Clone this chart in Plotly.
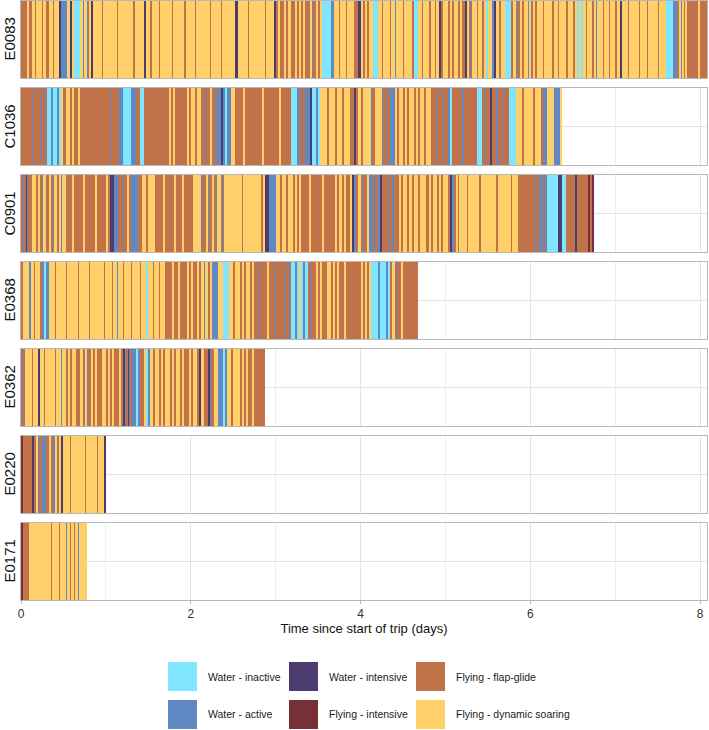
import plotly.graph_objects as go
from plotly.subplots import make_subplots

# ---------------- data ----------------
# Each upper-case character is one 0.025-day behaviour bin,
# each lower-case character is a half bin (0.0125 day) of that behaviour.
BIN_DAYS = 0.025

birds = ["E0083", "C1036", "C0901", "E0368", "E0362", "E0220", "E0171"]

state_codes = ["I", "A", "W", "R", "F", "S"]
state_labels = ["Water - inactive", "Water - active", "Water - intensive",
                "Flying - intensive", "Flying - flap-glide", "Flying - dynamic soaring"]
state_colors = ["#80E5FF", "#6089C4", "#4C3C70", "#783038", "#C17248", "#FFD069"]

# I=water inactive, A=water active, W=water intensive,
# R=flying intensive, F=flap-glide, S=dynamic soaring
E0083 = ["FFF", "SFSsfSSSfsSFSSfsSS", "WAAasSWSIIISasSAfsW", "SSSSfsSSSSSSfsSSSSSSSfsSSSS",
         "W", "SSfsSSSfsSSSSSfsSSSSSfsSSSSfsSSSSSSfsSSSSfsSSSSS", "SW",
         "SSSSSfsSSSSSSSfsSSS", "W", "FSFFSFSFFSFSFSFFSafFSFS", "IIIIAas", "SSfsSSfsSSSF",
         "FWas", "FSFSS", "II", "SSfsSSSfsSasSSSfsasSSF", "II", "SSfsSSFSSfsS", "W",
         "FSSFSFSSFSF", "W", "SFasSSfsSFS", "IS", "SAW", "SFS", "SIII", "FSafFSFSSasFSFS",
         "SSfsSSSFSSfsSS", "SfsSSFS", "I", "S", "I", "SfsSSFSasSSfsSSfsSSFS", "W",
         "SSSfsSSSSfsSSSfsSSSSfsSSS", "IIIAA", "FSasFSF", "FFFFSFF", "FS"]
C1036 = ["FFFFFafFFFafFaf", "IIAIIAI", "SFSSFSFFSF", "FFFFFFFFFFFFFaf",
         "afFFAAIIIIAAFafII", "FFFFFFFFFFFFsfFsfFFFFF", "SFSSFSS", "FafFFSFaf", "AAWAIAA",
         "SS", "FFFFsfFFFFFFFFsfFFFFFFFsfFFFF", "IIIA", "FafF", "AAWI", "IAIS",
         "SSFSSSFSSFSSS", "FFWFSF", "SSSS", "afF", "SSS", "afFaf", "FAA",
         "SFSSFSFSSFSFSSFSSF", "FFafFFafF", "AI", "FFFFFafFFFFFF", "II",
         "FafFFWFFafFFafFF", "IIIS", "SSFSSSSFSSS", "FAAS", "SS", "AAAS"]
C0901 = ["FafWafFS", "SFSFasSFSFasSFSasSF", "FFSFFFFSFFFFFSFFFFSF", "WWA", "afF", "FafFSF",
         "AAA", "Faf", "SSFSSSF", "FFFSFFFFSFFFSFFFF", "SSSS", "afFSafFSFasSFasS",
         "SSSSSSSfsSSSSSSSSF", "SWWAAAS", "SFSSFSSFSFS", "FFFFsfFFFFFsfFFFFF", "SFSFSFFS",
         "WA", "FSFafFS", "AAFaf", "AWF", "FFafFafFF", "SFSSFSFSSFSSSFSFSSFSFSSF", "WAF",
         "SfsSSSfsSSSSSfsSSSSSSSfsSSSSSSfsSS", "FFFFFFFF", "afFAAFA", "IIIII", "WW", "IIF",
         "FFFWFFFFFRFR"]
E0368 = ["FSSSas", "SfsSSF", "AIA", "SSSfsSSSSfsSSSSSfsSSSSfsSSSSSSfsSSSfsS", "as",
         "SSfsSSSfsSSSfsSS", "I", "SSfsSSfsSSF", "FFSFFSFFFSFSFF", "SFSasSFS", "AAAS", "S",
         "IIIS", "SFSSFSFSSFS", "FFafFFFSFFafFFFF", "afFaf", "IIAI", "SIAI", "FafFF",
         "SFSFFSSFSFSFFSF", "FFFFFF", "SFSFS", "IIIAIIIAI", "FSFafFSF", "FFFFFF"]
E0362 = ["Faf", "SSSfsSS", "W", "SSfsSSSSfsSS", "as", "SFSFSSFFSFSafFSFSFFSSFSFSFafSF",
         "WafWafA", "AIA", "FFS", "IA", "SFSSFSFSSFSFSSFSFFSFSSF", "W", "SF", "afWafF", "SS",
         "AAIA", "SSFSSSFSFS", "FFSFFFFF"]
E0220 = ["R", "FFFF", "W", "FSafF", "AA", "FSF", "AS", "FS", "W", "SSSfsSSSSSSfsSSSSSfsSS",
         "W"]
E0171 = ["RF", "FFS", "SSSSSSSSSfsSSSfsSSasSfsSfsSasSSfs"]

sequences = [E0083, C1036, C0901, E0368, E0362, E0220, E0171]

x_tick_vals = [0, 2, 4, 6, 8]
x_title = "Time since start of trip (days)"

# ---------------- figure ----------------
W, H = 709, 730
L, R, T, B = 21, 2, 1, 130
plot_w = W - L - R
plot_h = H - T - B
gap_px = 10

fig = make_subplots(rows=len(birds), cols=1, shared_xaxes=True,
                    vertical_spacing=gap_px / plot_h)


def segments(chunks):
    out = []
    t = 0.0
    for ch in "".join(chunks):
        d = BIN_DAYS if ch.isupper() else BIN_DAYS / 2
        st = ch.upper()
        if out and out[-1][0] == st:
            out[-1][2] += d
        else:
            out.append([st, t, d])
        t += d
    return out


for r, (bird, chunks) in enumerate(zip(birds, sequences), start=1):
    segs = segments(chunks)
    for code, lab, col in zip(state_codes, state_labels, state_colors):
        sel = [(s, d) for c, s, d in segs if c == code]
        if not sel:
            continue
        fig.add_trace(go.Bar(
            orientation="h",
            y=[0] * len(sel),
            base=[s for s, d in sel],
            x=[d for s, d in sel],
            width=1,
            marker=dict(color=col, line=dict(width=0)),
            name=lab, showlegend=False,
        ), row=r, col=1)

grid_c = "#E3E3E3"
border_c = "#B8B8B8"
for r in range(1, len(birds) + 1):
    fig.update_xaxes(range=[0, 8.08], tickvals=x_tick_vals, showgrid=True,
                     gridcolor=grid_c, gridwidth=1,
                     minor=dict(dtick=1, showgrid=True, gridcolor="#EEEEEE", gridwidth=0.6),
                     zeroline=False, showline=True, mirror=True, linecolor=border_c,
                     linewidth=1, row=r, col=1)
    fig.update_yaxes(range=[-0.5, 0.5], tickvals=[0], showticklabels=False,
                     showgrid=True, gridcolor=grid_c, gridwidth=1, zeroline=False,
                     showline=True, mirror=True, linecolor=border_c, linewidth=1,
                     fixedrange=True, row=r, col=1)

fig.update_xaxes(ticks="outside", ticklen=3, tickcolor=border_c,
                 tickfont=dict(size=12, color="#333333"),
                 title=dict(text=x_title, font=dict(size=13, color="#111111"), standoff=3),
                 row=len(birds), col=1)


def px_x(px):
    return (px - L) / plot_w


def px_y(py):
    return (T + plot_h - py) / plot_h


annotations = []
for r, bird in enumerate(birds, start=1):
    yax = fig.layout["yaxis" if r == 1 else f"yaxis{r}"]
    yc = (yax.domain[0] + yax.domain[1]) / 2
    annotations.append(dict(text=bird, x=px_x(9), y=yc, xref="paper", yref="paper",
                            xanchor="center", yanchor="middle", textangle=-90,
                            showarrow=False, font=dict(size=15, color="#111111")))

key_cols = [168, 289, 416]
text_cols = [206, 327, 454]
key_rows = [662, 700]
key_size = 29
shapes = []
for i, (lab, col) in enumerate(zip(state_labels, state_colors)):
    c, rr = divmod(i, 2)
    x0, y0 = key_cols[c], key_rows[rr]
    shapes.append(dict(type="rect", xref="paper", yref="paper",
                       x0=px_x(x0), x1=px_x(x0 + key_size),
                       y0=px_y(y0 + key_size), y1=px_y(y0),
                       fillcolor=col, line=dict(width=0), layer="above"))
    annotations.append(dict(text=lab, x=px_x(text_cols[c]), y=px_y(y0 + key_size / 2),
                            xref="paper", yref="paper", xanchor="left", yanchor="middle",
                            showarrow=False, font=dict(size=10.5, color="#1A1A1A")))

fig.update_layout(
    width=W, height=H,
    margin=dict(l=L, r=R, t=T, b=B, autoexpand=False),
    paper_bgcolor="white", plot_bgcolor="white",
    barmode="overlay", bargap=0, bargroupgap=0,
    showlegend=False,
    font=dict(family="Liberation Sans, Arial, sans-serif"),
    annotations=annotations, shapes=shapes,
)

fig.write_html("out.html")
